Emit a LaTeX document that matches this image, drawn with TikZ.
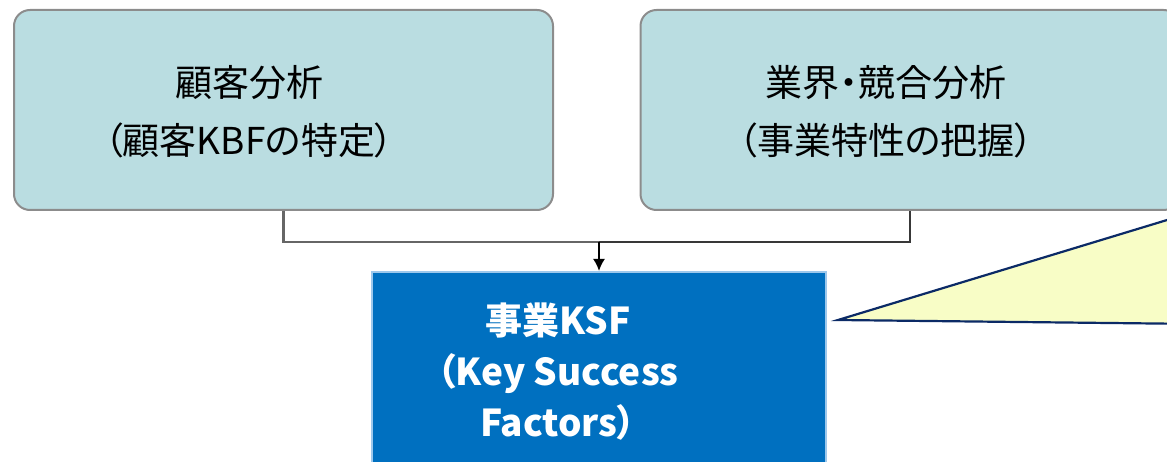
\documentclass[tikz,border=0pt]{standalone}
\usepackage{fontspec}
\newfontfamily\jp[RawFeature=+palt]{Noto Sans CJK JP}
\usetikzlibrary{arrows.meta}
\definecolor{boxfill}{HTML}{BADDE1}
\definecolor{boxline}{HTML}{8C8C8C}
\definecolor{ksfblue}{HTML}{0070C0}
\definecolor{ksfedge}{HTML}{9DC8EC}
\definecolor{callfill}{HTML}{F8FDC6}
\definecolor{callline}{HTML}{0B2A66}
\tikzset{
  topbox/.style={draw=boxline, line width=2pt, fill=boxfill, rounded corners=16pt,
    minimum width=539pt, minimum height=200pt, inner sep=0pt},
  toptext/.style={font=\jp\fontsize{37}{58}\selectfont, align=center, text=black, inner sep=0pt},
  ksfbox/.style={draw=ksfedge, line width=2pt, fill=ksfblue, minimum width=454pt, minimum height=210pt, inner sep=0pt},
  ksftext/.style={font=\jp\bfseries\fontsize{37}{51}\selectfont, align=center, text=white, inner sep=0pt},
  conn/.style={line width=2.2pt, draw=black!60},
  connd/.style={line width=2.2pt, draw=black!78},
}
\begin{document}
\begin{tikzpicture}[x=1pt,y=-1pt]
\useasboundingbox (0,0) rectangle (1167,462);
\begin{scope}
\clip (0,0) rectangle (1167,462);
% boxes
\node[topbox] (cust) at (283.5,110) {};
\node[topbox] (ind) at (910,110) {};
\node[toptext] (custt) at (249,112) {顧客分析\\（顧客KBFの特定）};
\node[toptext] (indt) at (886,112) {業界・競合分析\\（事業特性の把握）};
\node[ksfbox] (ksf) at (599,377) {};
\node[ksftext] (ksft) at (558,372) {事業KSF\\（Key Success\\Factors）};
% connectors
\path (cust.south) ++(0,31) coordinate (jl);
\coordinate (jm) at (jl -| ksf.north);
\draw[conn] (cust.south) -- (jl) -- (jm);
\draw[connd] (jm) -| (ind.south);
\draw[line width=2pt, black, -{Latex[length=12pt,width=12pt]}] (jm) -- (ksf.north);
% callout
\coordinate (tip) at (838,320);
\coordinate (ct) at (1200,210);
\coordinate (cb) at (1200,324);
\draw[callline, line width=2.2pt, fill=callfill, line join=miter] (tip) -- (ct) -- (cb) -- cycle;
\end{scope}
\end{tikzpicture}
\end{document}
